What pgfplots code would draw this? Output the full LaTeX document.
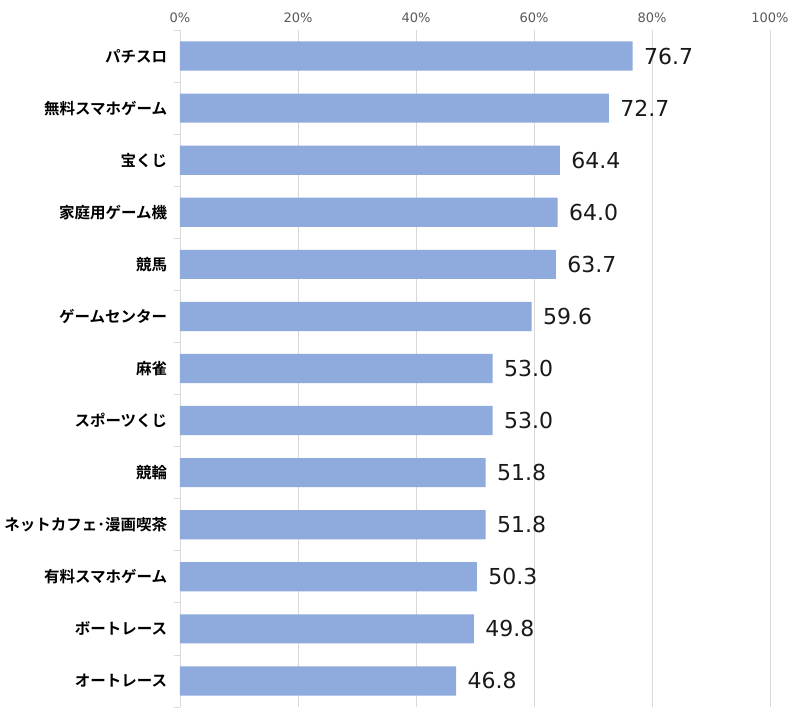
\documentclass[border=0pt]{standalone}
\usepackage{fontspec}
\setmainfont{Noto Sans CJK JP}[BoldFont={Noto Sans CJK JP Bold}]
\newfontfamily\numfont{DejaVu Sans}
\usepackage{pgfplots}
\pgfplotsset{compat=1.18}
\definecolor{barc}{HTML}{8FAADC}
\begin{document}
\begin{tikzpicture}
\begin{axis}[name=ax, scale only axis, width=590pt, height=677pt,
  xbar, bar width=0.56, xmin=0, xmax=100, ymin=-0.5, ymax=12.5, y dir=reverse,
  axis x line*=top, axis y line*=left,
  x axis line style={draw=none},
  y axis line style={draw=black!15, line width=0.8pt},
  xtick={0,20,...,100}, xticklabel={\pgfmathprintnumber{\tick}\%},
  /pgf/number format/assume math mode=true,
  xmajorgrids, major x grid style={draw=black!15, line width=0.8pt},
  major x tick style={draw=none},
  xticklabel style={font=\numfont\fontsize{13}{15}\selectfont, text=black!65},
  ytick={0,...,12},
  yticklabels={パチスロ,無料スマホゲーム,宝くじ,家庭用ゲーム機,競馬,ゲームセンター,麻雀,スポーツくじ,競輪,ネットカフェ･漫画喫茶,有料スマホゲーム,ボートレース,オートレース},
  yticklabel style={font=\fontsize{15.5}{18}\selectfont\bfseries, text=black, xshift=-5pt},
  major y tick style={draw=none},
  minor ytick={-0.5,0.5,...,12.5},
  minor y tick style={draw=black!15, line width=0.8pt},
  minor tick length=6pt, tick align=outside,
  point meta=x,
  nodes near coords={\pgfmathprintnumber[fixed,fixed zerofill,precision=1]{\pgfplotspointmeta}},
  nodes near coords style={font=\numfont\fontsize{22}{25}\selectfont, text=black!90, anchor=west, xshift=8pt},
]
\addplot[fill=barc, draw=none] coordinates {
(76.7,0) (72.7,1) (64.4,2) (64.0,3) (63.7,4) (59.6,5) (53.0,6) (53.0,7) (51.8,8) (51.8,9) (50.3,10) (49.8,11) (46.8,12)};
\end{axis}
\path ([shift={(-180pt,-13pt)}]ax.south west) rectangle ([shift={(31pt,30pt)}]ax.north east);
\end{tikzpicture}
\end{document}
